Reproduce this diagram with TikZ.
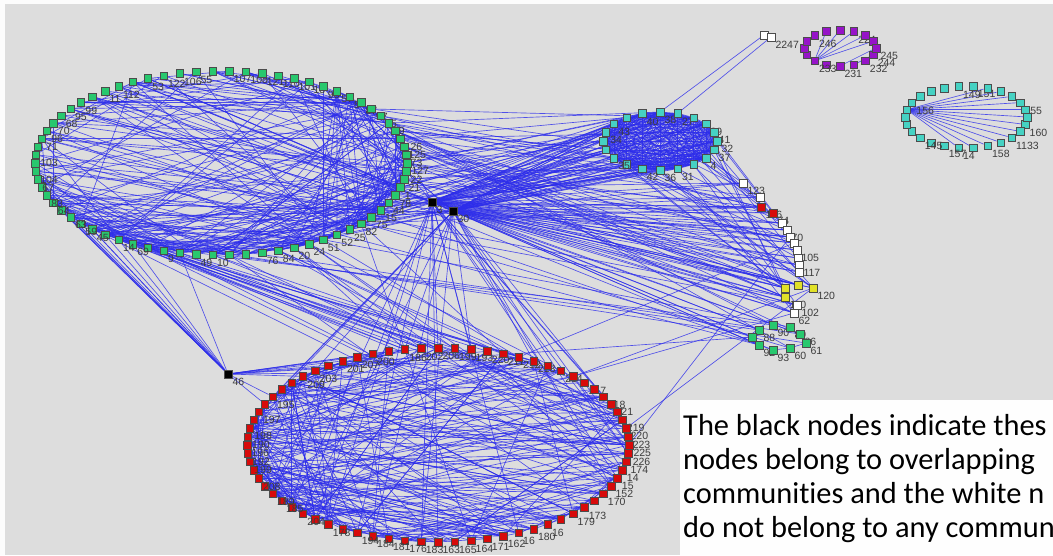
\documentclass[tikz,border=0pt]{standalone}
\usepackage{fontspec}
\setmainfont[Ligatures=NoCommon]{Carlito}
\newfontfamily\lblfont{Liberation Sans}
\usetikzlibrary{positioning}
\definecolor{bggray}{RGB}{221,221,221}
\definecolor{edgeblue}{RGB}{45,45,235}
\definecolor{grn}{RGB}{40,200,110}
\definecolor{cyn}{RGB}{70,210,195}
\definecolor{prp}{RGB}{150,20,200}
\definecolor{rd}{RGB}{215,10,10}
\definecolor{ylw}{RGB}{225,225,40}
\definecolor{lblgray}{RGB}{60,60,60}
\pgfdeclarelayer{back}
\pgfdeclarelayer{edges}
\pgfsetlayers{back,edges,main}

\tikzset{
  sq/.style={draw=black!70, line width=0.5pt, minimum size=7.5pt, inner sep=0pt},
  lbl/.style={font=\lblfont\fontsize{10.5}{10.5}\selectfont, text=lblgray,
              inner sep=0.3pt, anchor=north west},
  ed/.style={draw=edgeblue, line width=0.65pt, opacity=0.8},
  note/.style={font=\fontsize{30.4}{34}\selectfont, anchor=base west, inner sep=0pt},
}

% one community: prefix, cx, cy, rx, ry, count, fill, labels
\newcommand{\ring}[8]{%
  \foreach \lab [count=\i] in {#8} {
    \pgfmathsetmacro{\ang}{\i*(360/#6)}
    \node[sq, fill=#7] (#1\i) at ({#2+#4*cos(\ang)}, {#3+#5*sin(\ang)}) {};
    \node[lbl] (#1l\i) at (#1\i.south east) {\lab};
  }%
}

\begin{document}
\begin{tikzpicture}[x=1pt, y=-1pt]
\useasboundingbox (0,0) rectangle (1053,555);
\begin{scope}
\clip (0,0) rectangle (1053,555);

% === Communities ===
\ring{g}{221}{163}{186}{92}{70}{grn}{22,21,1,78,44,15,75,82,25,52,51,24,20,84,76,{},{},10,49,{},9,{},69,14,{},45,59,63,{},64,83,{},67,104,{},103,{},71,96,70,68,95,99,{},11,112,{},53,122,106,55,{},107,108,121,110,101,13,98,57,5,87,97,85,79,2,126,125,73,127}
\ring{r}{438}{445}{191}{97}{72}{rd}{226,174,14,15,152,170,{},173,179,{},16,180,16,162,171,164,165,163,183,176,181,184,194,{},178,{},204,{},185,189,{},208,{},199,192,196,190,198,{},197,{},195,{},{},209,203,{},201,207,200,{},186,202,206,199,193,220,211,212,213,{},214,{},217,{},218,221,{},219,220,223,225}
\ring{c}{660}{141}{57}{29}{20}{cyn}{37,4,{},31,36,42,{},35,{},{},34,43,{},40,38,27,{},39,41,32}
\ring{p}{840}{48}{36}{18}{16}{prp}{244,232,{},231,{},233,{},{},{},246,{},{},224,{},{},245}
\ring{q}{966}{117}{61}{31}{26}{cyn}{160,{},1133,{},158,{},14,157,{},145,{},{},{},{},156,{},{},{},149,151,{},{},{},155,{},{}}

% --- arc of unassigned nodes on the right ---
\foreach \x/\y/\f/\lab [count=\i] in {743/183/white/123, 760/197/white/{}, 761/207/rd/116,
    773/213/rd/74, 782/223/white/7, 787/230/white/70, 790/237/white/{}, 794/243/white/{},
    797/250/white/105, 798/258/white/{}, 799/265/white/117, 799/272/white/{},
    798/285/ylw/{}, 813/288/ylw/120, 785/288/ylw/{}, 785/297/ylw/110,
    797/305/white/102, 794/313/white/62} {
  \node[sq, fill=\f] (w\i) at (\x,\y) {};
  \node[lbl] (wl\i) at (w\i.south east) {\lab};
}

% --- small green group ---
\foreach \x/\y/\lab [count=\i] in {759/330/88, 773/325/90, 790/327/89, 752/337/{},
    759/345/92, 773/350/93, 790/348/60, 800/334/86, 806/343/61} {
  \node[sq, fill=grn] (k\i) at (\x,\y) {};
  \node[lbl] (kl\i) at (k\i.south east) {\lab};
}

% --- overlapping (black) and lone (white) nodes ---
\node[sq, fill=black] (b1) at (432,202) {};
\node[lbl] (bl1) at (b1.south east) {3};
\node[sq, fill=black] (b2) at (453,211) {};
\node[lbl] (bl2) at (b2.south east) {30};
\node[sq, fill=black] (b3) at (228,374) {};
\node[lbl] (bl3) at (b3.south east) {46};
\node[sq, fill=white] (t1) at (764,35) {};
\node[sq, fill=white] (t2) at (771,37) {};
\node[lbl] (tl) at (t2.south east) {2247};

% === Edges ===
\begin{pgfonlayer}{edges}
\pgfmathsetseed{4711}
% green community
\foreach \k in {1,...,150}{
  \pgfmathtruncatemacro{\a}{mod(random(0,20)+60,70)+1}
  \pgfmathtruncatemacro{\b}{random(1,70)}
  \draw[ed] (g\a) -- (g\b);
}
\foreach \k in {1,...,80}{
  \pgfmathtruncatemacro{\a}{random(1,70)}
  \pgfmathtruncatemacro{\b}{random(1,70)}
  \draw[ed] (g\a) -- (g\b);
}
\foreach \k in {1,...,60}{
  \pgfmathtruncatemacro{\a}{random(3,34)}
  \pgfmathtruncatemacro{\b}{random(3,34)}
  \draw[ed] (g\a) -- (g\b);
}
% red community
\foreach \k in {1,...,150}{
  \pgfmathtruncatemacro{\a}{random(26,46)}
  \pgfmathtruncatemacro{\b}{random(1,72)}
  \draw[ed] (r\a) -- (r\b);
}
\foreach \k in {1,...,70}{
  \pgfmathtruncatemacro{\a}{random(1,72)}
  \pgfmathtruncatemacro{\b}{random(1,72)}
  \draw[ed] (r\a) -- (r\b);
}
\foreach \k in {1,...,50}{
  \pgfmathtruncatemacro{\a}{random(2,36)}
  \pgfmathtruncatemacro{\b}{random(2,36)}
  \draw[ed] (r\a) -- (r\b);
}
% middle cyan community, fully linked
\foreach \a in {1,...,20}{
  \foreach \b in {\a,...,20}{
    \draw[ed] (c\a) -- (c\b);
  }
}
% purple and right cyan
\foreach \b in {11,12,13,14,15}{
  \draw[ed] (p6) -- (p\b);
}
\draw[ed] (p4) -- (p16);
\draw[ed] (p3) -- (p1);
\foreach \b in {1,2,3,4,5,6,7,21,22,23,24,25,26}{
  \draw[ed] (q14) -- (q\b);
}
% overlapping nodes
\foreach \n in {b1,b2}{
  \foreach \b in {1,...,20}{ \draw[ed] (\n) -- (c\b); }
  \foreach \b in {1,...,18}{ \draw[ed] (\n) -- (w\b); }
  \foreach \b in {1,4,5,8}{ \draw[ed] (\n) -- (k\b); }
  \foreach \k in {1,...,14}{
    \pgfmathtruncatemacro{\b}{random(1,72)}
    \draw[ed] (\n) -- (r\b);
  }
  \foreach \k in {1,...,10}{
    \pgfmathtruncatemacro{\b}{random(1,70)}
    \draw[ed] (\n) -- (g\b);
  }
}
\foreach \k in {1,...,12}{
  \pgfmathtruncatemacro{\b}{random(18,32)}
  \draw[ed] (b3) -- (g\b);
}
\foreach \k in {1,...,10}{
  \pgfmathtruncatemacro{\b}{random(36,62)}
  \draw[ed] (b3) -- (r\b);
}
\draw[ed] (b3) -- (k4);
% between communities
\foreach \k in {1,...,40}{
  \pgfmathtruncatemacro{\a}{mod(random(0,16)+62,70)+1}
  \pgfmathtruncatemacro{\b}{random(1,20)}
  \draw[ed] (g\a) -- (c\b);
}
\foreach \k in {1,...,35}{
  \pgfmathtruncatemacro{\a}{random(8,32)}
  \pgfmathtruncatemacro{\b}{mod(random(0,30)+50,72)+1}
  \draw[ed] (g\a) -- (r\b);
}
\foreach \k in {1,...,30}{
  \pgfmathtruncatemacro{\a}{mod(random(0,14)+63,70)+1}
  \pgfmathtruncatemacro{\b}{random(1,18)}
  \draw[ed] (g\a) -- (w\b);
}
\foreach \k in {1,...,25}{
  \pgfmathtruncatemacro{\a}{random(1,20)}
  \pgfmathtruncatemacro{\b}{random(1,18)}
  \draw[ed] (c\a) -- (w\b);
}
\foreach \k in {1,...,12}{
  \pgfmathtruncatemacro{\a}{random(1,70)}
  \pgfmathtruncatemacro{\b}{random(1,9)}
  \draw[ed] (g\a) -- (k\b);
}
\foreach \k in {1,...,5}{
  \pgfmathtruncatemacro{\a}{random(1,18)}
  \pgfmathtruncatemacro{\b}{random(58,72)}
  \draw[ed] (w\a) -- (r\b);
}
\draw[ed] (k5) -- (k6) -- (k7) -- (k9);
\draw[ed] (t1) -- (c15);
\draw[ed] (t2) -- (c16);
\draw[ed] (w1) -- (c2);
\end{pgfonlayer}

% === Background and note ===
\begin{pgfonlayer}{back}
\fill[bggray] (0,0) rectangle (1053,555);
\fill[white!92!bggray] (0,0) rectangle (1053,4);
\fill[white!92!bggray] (0,0) rectangle (5,555);
\end{pgfonlayer}
\fill[white!96!bggray] (680,400) rectangle (1053,555);
\node[note] (txt1) at (683,435) {The black nodes indicate thes};
\node[note] (txt2) at (683,469) {nodes belong to overlapping};
\node[note] (txt3) at (683,503) {communities and the white n};
\node[note] (txt4) at (683,537) {do not belong to any commun};
\end{scope}
\end{tikzpicture}
\end{document}
